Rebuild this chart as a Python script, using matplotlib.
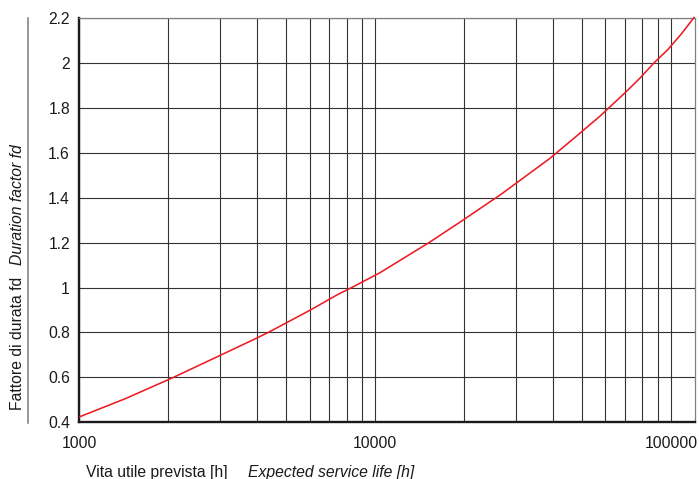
import matplotlib
matplotlib.use('Agg')
import matplotlib.pyplot as plt
from matplotlib.ticker import LogLocator, NullFormatter
from matplotlib.lines import Line2D

# ---- data ----
hours = [1000, 1430, 2080, 2810, 3980, 4350, 4930, 6080, 7470, 8330, 10380,
         15200, 19240, 26560, 38680, 46620, 57510, 70790, 78700, 87530,
         97620, 108600, 120000]
fd = [0.424, 0.505, 0.600, 0.681, 0.775, 0.800, 0.838, 0.902, 0.969, 1.000,
      1.066, 1.200, 1.289, 1.414, 1.572, 1.661, 1.763, 1.874, 1.934, 2.000,
      2.060, 2.131, 2.205]
x_ticks = [1000, 10000, 100000]
x_tick_labels = ['1000', '10000', '100000']
y_ticks = [0.4, 0.6, 0.8, 1.0, 1.2, 1.4, 1.6, 1.8, 2.0, 2.2]
y_tick_labels = ['0.4', '0.6', '0.8', '1', '1.2', '1.4', '1.6', '1.8', '2', '2.2']

plt.rcParams['font.family'] = ['Liberation Sans', 'DejaVu Sans']
FS = 11.3

W, H = 699, 479
fig = plt.figure(figsize=(W / 100, H / 100), dpi=100)
x0, x1, ytop, ybot = 79.3, 694.5, 18.0, 422.3
ax = fig.add_axes([x0 / W, 1 - ybot / H, (x1 - x0) / W, (ybot - ytop) / H])

ax.set_xscale('log')
ax.set_xlim(1000, 120000)
ax.set_ylim(0.4, 2.2)

ax.plot(hours, fd, color='#ed1c24', lw=1.15, solid_capstyle='butt', zorder=3,
        clip_on=False)

ax.set_xticks(x_ticks)
ax.set_xticklabels(x_tick_labels)
ax.xaxis.set_minor_locator(LogLocator(base=10, subs=range(2, 10)))
ax.xaxis.set_minor_formatter(NullFormatter())
ax.set_yticks(y_ticks)
ax.set_yticklabels(y_tick_labels)

ax.grid(True, which='both', axis='x', color='#333333', lw=0.8)
ax.grid(True, which='major', axis='y', color='#333333', lw=0.8)
ax.set_axisbelow(True)

ax.tick_params(axis='both', which='both', length=0, labelsize=FS, colors='#1a1a1a')
ax.tick_params(axis='y', pad=6.7)
ax.tick_params(axis='x', pad=9.8)

for s in ['left', 'bottom']:
    ax.spines[s].set_color('#1a1a1a')
    ax.spines[s].set_linewidth(1.7)
for s in ['top', 'right']:
    ax.spines[s].set_color('#808080')
    ax.spines[s].set_linewidth(0.9)

# axis titles (Italian normal + English italic)
fig.text(86 / W, 2.5 / H, 'Vita utile prevista [h]', fontsize=FS,
         ha='left', va='baseline', color='#1a1a1a')
fig.text(248 / W, 2.5 / H, 'Expected service life [h]', fontsize=FS,
         style='italic', ha='left', va='baseline', color='#1a1a1a')
fig.text(17.5 / W, 1 - 410 / H, 'Fattore di durata fd', fontsize=FS,
         rotation=90, ha='center', va='bottom', color='#1a1a1a')
fig.text(17.5 / W, 1 - 265 / H, 'Duration factor fd', fontsize=FS,
         style='italic', rotation=90, ha='center', va='bottom', color='#1a1a1a')

# decorative vertical rule left of the y tick labels
fig.add_artist(Line2D([28.3 / W, 28.3 / W], [1 - 18 / H, 1 - 422.7 / H],
                      transform=fig.transFigure, color='#7a7a7a', lw=1.1))

fig.savefig('out.png', dpi=100)
